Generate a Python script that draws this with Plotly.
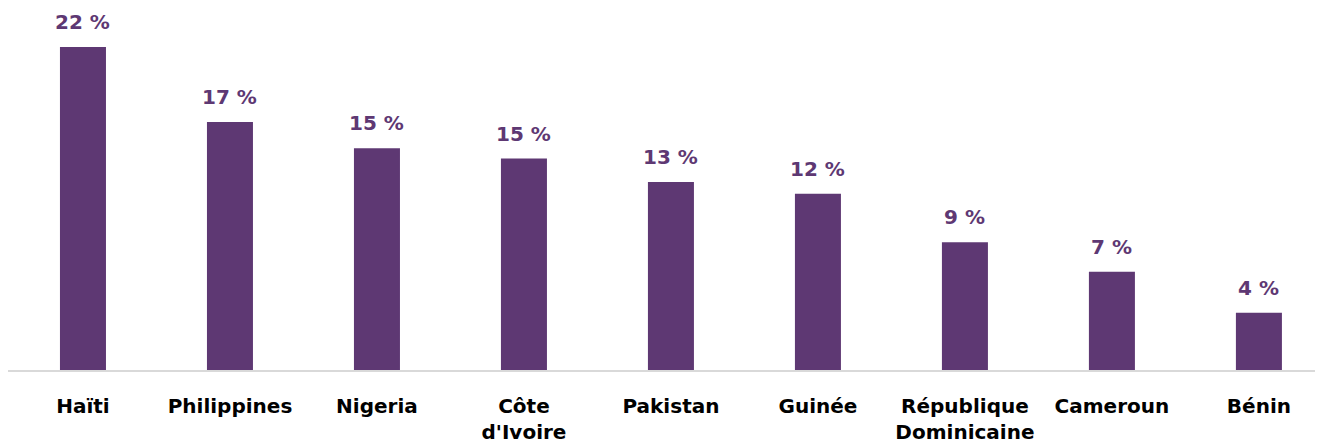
import plotly.graph_objects as go

categories = ["Haïti", "Philippines", "Nigeria", "Côte<br>d'Ivoire", "Pakistan",
              "Guinée", "République<br>Dominicaine", "Cameroun", "Bénin"]
values = [22.0, 16.9, 15.1, 14.4, 12.8, 12.0, 8.7, 6.7, 3.9]
labels = ["22 %", "17 %", "15 %", "15 %", "13 %", "12 %", "9 %", "7 %", "4 %"]

purple = "#5e3873"
font_family = "DejaVu Sans"

fig = go.Figure(go.Bar(
    x=categories, y=values, marker_color=purple, width=0.313,
    marker_line_width=0, hoverinfo="skip",
))

for c, v, t in zip(categories, values, labels):
    fig.add_annotation(x=c, y=v, text=t, showarrow=False, yanchor="bottom",
                       yshift=11, font=dict(family=font_family, size=20, color=purple, weight="bold"))

fig.update_layout(
    width=1315, height=434,
    margin=dict(l=0, r=0, t=2, b=72, autoexpand=False),
    plot_bgcolor="white", paper_bgcolor="white",
    showlegend=False,
    xaxis=dict(range=[-0.51, 8.436], showline=True, linecolor="#d9d9d9", linewidth=2,
               showgrid=False, ticks="", ticklabelstandoff=17, automargin=False,
               tickfont=dict(family=font_family, size=20, color="black", weight="bold")),
    yaxis=dict(range=[0, 24.52], visible=False, showgrid=False, zeroline=False,
               automargin=False),
)

fig.write_html("out.html")
